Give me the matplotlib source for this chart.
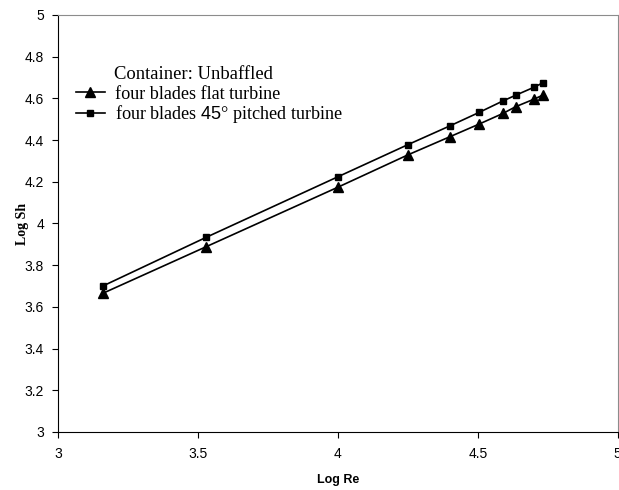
import numpy as np
import matplotlib.pyplot as plt

plt.rcParams['mathtext.fontset'] = 'custom'
plt.rcParams['mathtext.rm'] = 'Liberation Sans'

# 数据：Log Re 与 Log Sh
log_re = [3.16, 3.53, 4.00, 4.25, 4.40, 4.505, 4.59, 4.635, 4.70, 4.733]
sh_flat = [3.665, 3.889, 4.174, 4.329, 4.416, 4.477, 4.528, 4.560, 4.596, 4.616]
sh_pitched = [3.700, 3.934, 4.224, 4.378, 4.468, 4.533, 4.588, 4.615, 4.653, 4.675]

fig = plt.figure(figsize=(6.19, 4.9), dpi=100)
ax = fig.add_axes([0.0937, 0.1184, 0.9043, 0.851])

ax.plot(log_re, sh_flat, color='black', lw=1.2, marker='^', ms=7,
        label='four blades flat turbine')
ax.plot(log_re, sh_pitched, color='black', lw=1.2, marker='s', ms=3.8,
        label='four blades $\\mathrm{45}$° pitched turbine')

ax.set_xlim(3, 5)
ax.set_ylim(3, 5)
ax.set_xticks([3, 3.5, 4, 4.5, 5])
ax.set_xticklabels(['3', '3.5', '4', '4.5', '5'])
ax.set_yticks(np.arange(3, 5.01, 0.2))
ax.set_yticklabels(['3', '3.2', '3.4', '3.6', '3.8', '4', '4.2', '4.4', '4.6', '4.8', '5'])
ax.tick_params(direction='out', labelsize=10)
ax.tick_params(axis='x', length=4, pad=6.5)
ax.tick_params(axis='y', length=4, pad=6)
for lab in ax.get_xticklabels() + ax.get_yticklabels():
    lab.set_family('Liberation Sans')

ax.spines['left'].set_color('black')
ax.spines['bottom'].set_color('black')
ax.spines['top'].set_color('#8c8c8c')
ax.spines['right'].set_color('#8c8c8c')

ax.set_xlabel('Log Re', family='Liberation Sans', fontweight='bold', fontsize=9)
ax.xaxis.set_label_coords(0.5, -0.10)
ax.set_ylabel('Log Sh', family='Liberation Serif', fontweight='bold', fontsize=10)
ax.yaxis.set_label_coords(-0.051, 0.5)

ax.text(0.10, 0.857, 'Container: Unbaffled', transform=ax.transAxes,
        family='Liberation Serif', fontsize=13.4, va='center')
ax.legend(loc='upper left', bbox_to_anchor=(0.009, 0.861), frameon=False,
          prop={'family': 'Liberation Serif', 'size': 13.1}, handlelength=1.6,
          handletextpad=0.58, labelspacing=0.02, borderaxespad=0.3)

plt.savefig('out.png', dpi=100)
